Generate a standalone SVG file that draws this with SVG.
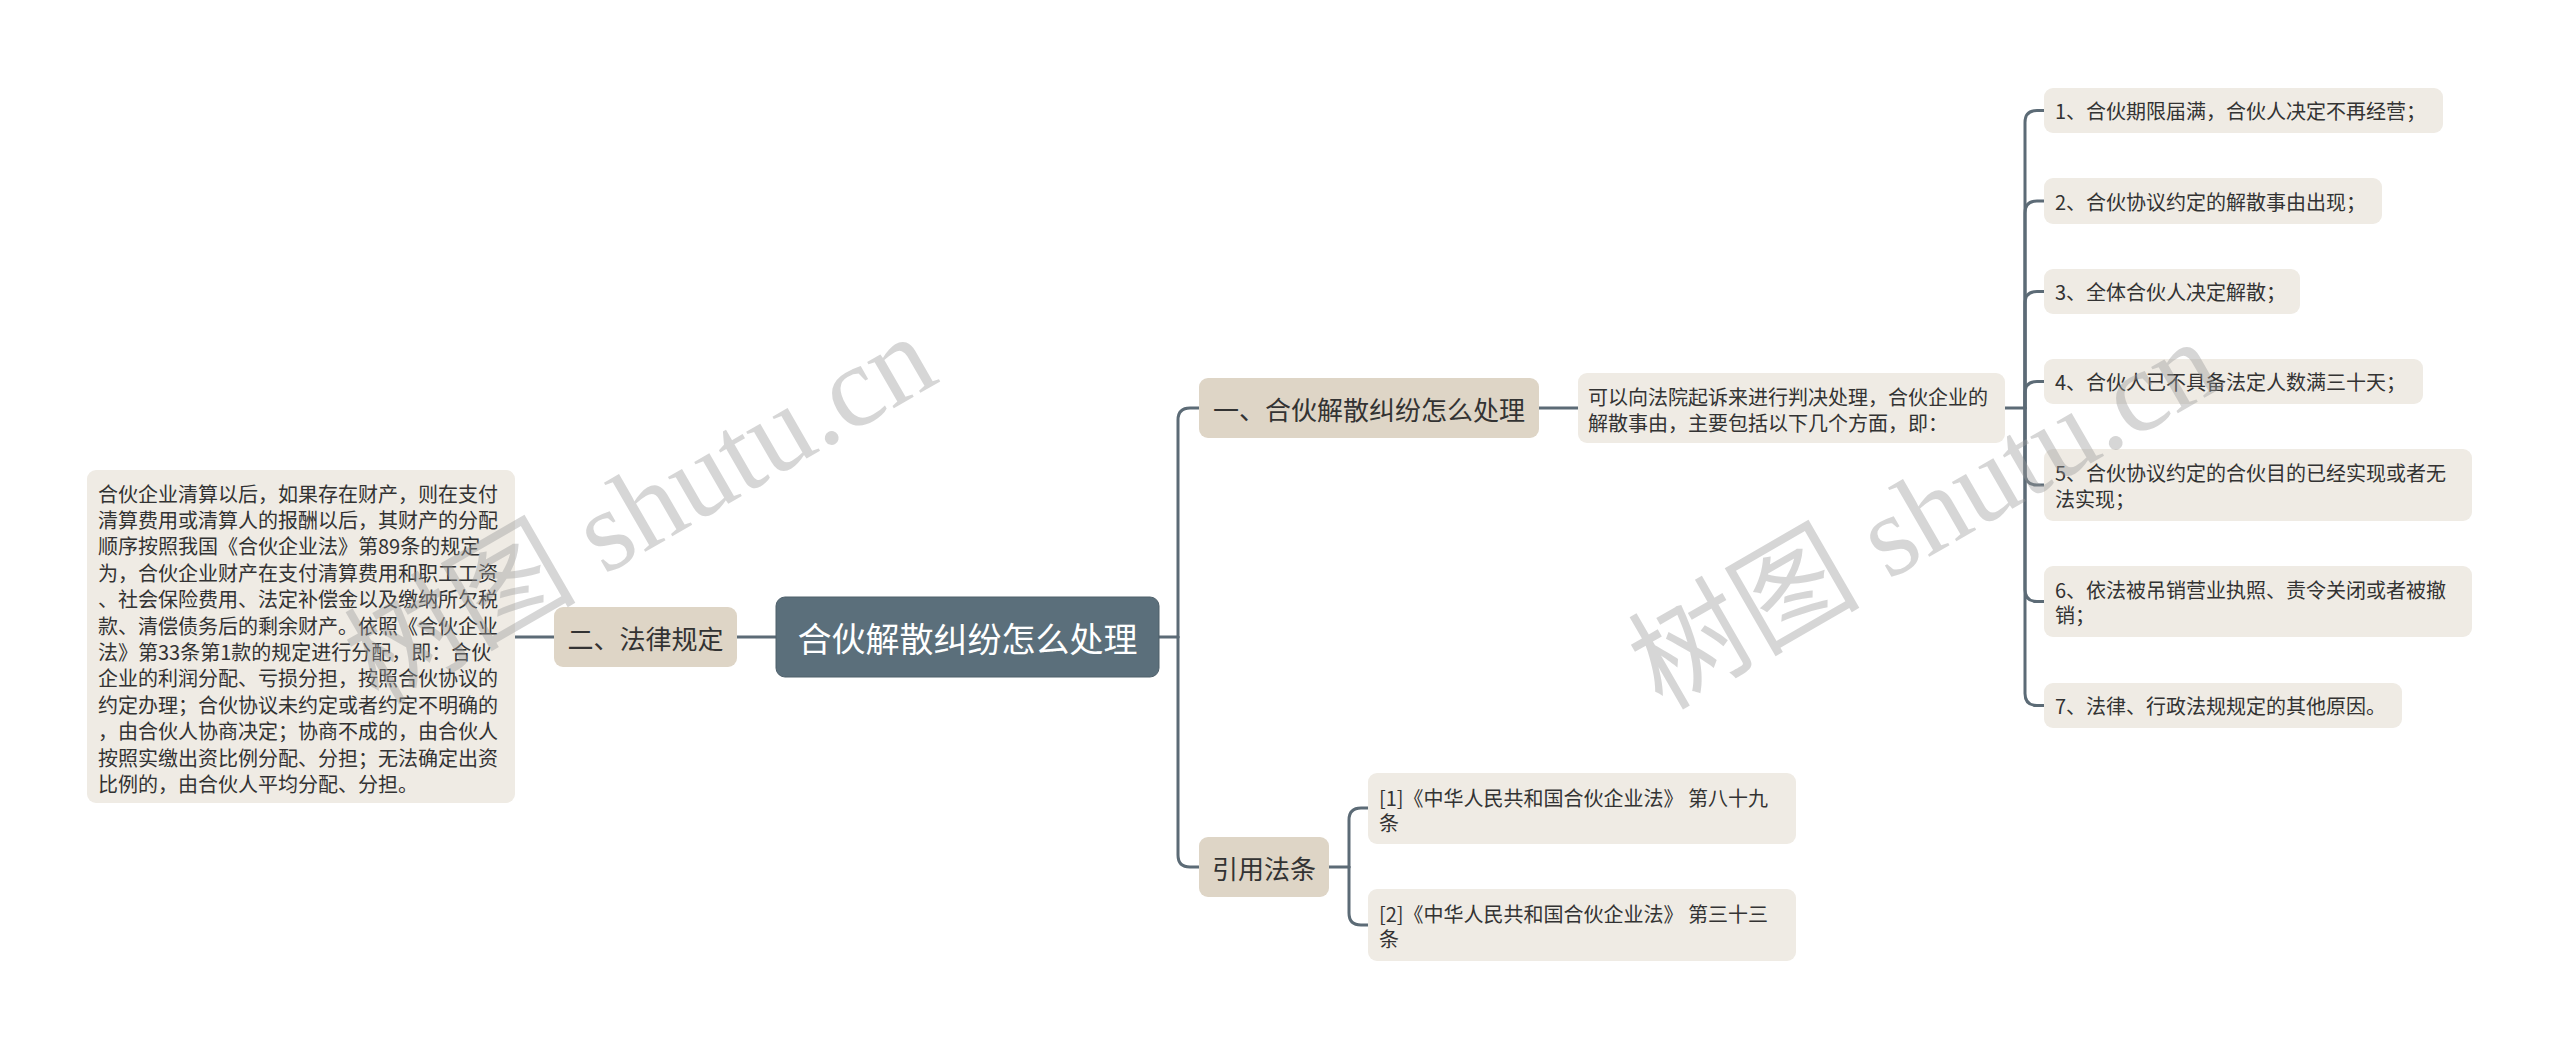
<svg xmlns="http://www.w3.org/2000/svg" width="2560" height="1049" viewBox="0 0 2560 1049">
<style>
text{font-family:"Noto Sans CJK SC","Noto Sans",sans-serif;fill:#333333;dominant-baseline:central}
.root{fill:#5b6f7b}
.l1{fill:#ded5c6}
.leaf{fill:#efebe4}
.t20{font-size:20px}
.t26{font-size:26px}
.rt{font-size:34px;fill:#ffffff}
.mid{text-anchor:middle}
.conn path{fill:none;stroke:#5c6b76;stroke-width:3;stroke-linecap:round}
.wm{font-family:"Liberation Serif","Noto Sans CJK SC",serif;font-size:116px;fill:#9a9a9a;opacity:0.4;dominant-baseline:auto}
</style>
<rect width="2560" height="1049" fill="#ffffff"/>
<g class="conn" id="connectors">
<path d="M1159 637 H1178"/>
<path d="M1178 637 V420 Q1178 408 1190 408 H1199"/>
<path d="M1178 637 V855 Q1178 867 1190 867 H1199"/>
<path d="M776 637 H737"/>
<path d="M554 637 H515"/>
<path d="M1539 408 H1578"/>
<path d="M2005 408 H2025"/>
<path d="M2025 408 V122.5 Q2025 110.5 2037 110.5 H2044"/>
<path d="M2025 408 V213 Q2025 201 2037 201 H2044"/>
<path d="M2025 408 V303.5 Q2025 291.5 2037 291.5 H2044"/>
<path d="M2025 408 V393.5 Q2025 381.5 2037 381.5 H2044"/>
<path d="M2025 408 V473 Q2025 485 2037 485 H2044"/>
<path d="M2025 408 V589.5 Q2025 601.5 2037 601.5 H2044"/>
<path d="M2025 408 V693.5 Q2025 705.5 2037 705.5 H2044"/>
<path d="M1329 867 H1349"/>
<path d="M1349 867 V820 Q1349 808 1361 808 H1368"/>
<path d="M1349 867 V913 Q1349 925 1361 925 H1368"/>
</g>
<g id="root">
<rect class="root" x="776" y="597" width="383" height="80" rx="9" stroke="#4f606b" stroke-width="1"/>
<text class="rt mid" x="967.5" y="637">合伙解散纠纷怎么处理</text>
</g>
<g id="n-law">
<rect class="l1" x="554" y="607" width="183" height="60" rx="9"/>
<text class="t26 mid" x="645.5" y="637">二、法律规定</text>
</g>
<g id="n-law-text">
<rect class="leaf" x="87" y="470" width="428" height="333" rx="9"/>
<text class="t20" x="98" y="493">合伙企业清算以后，如果存在财产，则在支付</text>
<text class="t20" x="98" y="519.4">清算费用或清算人的报酬以后，其财产的分配</text>
<text class="t20" x="98" y="545.8">顺序按照我国《合伙企业法》第89条的规定</text>
<text class="t20" x="98" y="572.2">为，合伙企业财产在支付清算费用和职工工资</text>
<text class="t20" x="98" y="598.6">、社会保险费用、法定补偿金以及缴纳所欠税</text>
<text class="t20" x="98" y="625">款、清偿债务后的剩余财产。依照《合伙企业</text>
<text class="t20" x="98" y="651.4">法》第33条第1款的规定进行分配，即：合伙</text>
<text class="t20" x="98" y="677.8">企业的利润分配、亏损分担，按照合伙协议的</text>
<text class="t20" x="98" y="704.2">约定办理；合伙协议未约定或者约定不明确的</text>
<text class="t20" x="98" y="730.6">，由合伙人协商决定；协商不成的，由合伙人</text>
<text class="t20" x="98" y="757">按照实缴出资比例分配、分担；无法确定出资</text>
<text class="t20" x="98" y="783.4">比例的，由合伙人平均分配、分担。</text>
</g>
<g id="n-how">
<rect class="l1" x="1199" y="378" width="340" height="60" rx="9"/>
<text class="t26 mid" x="1369" y="408">一、合伙解散纠纷怎么处理</text>
</g>
<g id="n-desc">
<rect class="leaf" x="1578" y="373" width="427" height="70" rx="9"/>
<text class="t20" x="1588" y="396">可以向法院起诉来进行判决处理，合伙企业的</text>
<text class="t20" x="1588" y="422">解散事由，主要包括以下几个方面，即：</text>
</g>
<g id="n-i1">
<rect class="leaf" x="2044" y="88" width="399" height="45" rx="9"/>
<text class="t20" x="2055" y="110.5">1、合伙期限届满，合伙人决定不再经营；</text>
</g>
<g id="n-i2">
<rect class="leaf" x="2044" y="178" width="338" height="46" rx="9"/>
<text class="t20" x="2055" y="201">2、合伙协议约定的解散事由出现；</text>
</g>
<g id="n-i3">
<rect class="leaf" x="2044" y="269" width="256" height="45" rx="9"/>
<text class="t20" x="2055" y="291.5">3、全体合伙人决定解散；</text>
</g>
<g id="n-i4">
<rect class="leaf" x="2044" y="359" width="379" height="45" rx="9"/>
<text class="t20" x="2055" y="381.5">4、合伙人已不具备法定人数满三十天；</text>
</g>
<g id="n-i5">
<rect class="leaf" x="2044" y="449" width="428" height="72" rx="9"/>
<text class="t20" x="2055" y="472.5">5、合伙协议约定的合伙目的已经实现或者无</text>
<text class="t20" x="2055" y="498">法实现；</text>
</g>
<g id="n-i6">
<rect class="leaf" x="2044" y="566" width="428" height="71" rx="9"/>
<text class="t20" x="2055" y="589">6、依法被吊销营业执照、责令关闭或者被撤</text>
<text class="t20" x="2055" y="614.5">销；</text>
</g>
<g id="n-i7">
<rect class="leaf" x="2044" y="683" width="358" height="45" rx="9"/>
<text class="t20" x="2055" y="705.5">7、法律、行政法规规定的其他原因。</text>
</g>
<g id="n-ref">
<rect class="l1" x="1199" y="837" width="130" height="60" rx="9"/>
<text class="t26 mid" x="1264" y="867">引用法条</text>
</g>
<g id="n-ref1">
<rect class="leaf" x="1368" y="773" width="428" height="71" rx="9"/>
<text class="t20" x="1379" y="797">[1]《中华人民共和国合伙企业法》 第八十九</text>
<text class="t20" x="1379" y="822.5">条</text>
</g>
<g id="n-ref2">
<rect class="leaf" x="1368" y="889" width="428" height="72" rx="9"/>
<text class="t20" x="1379" y="913">[2]《中华人民共和国合伙企业法》 第三十三</text>
<text class="t20" x="1379" y="938.5">条</text>
</g>
<g id="watermarks">
<text class="wm" transform="translate(378 706) rotate(-30)">树图 shutu.cn</text>
<text class="wm" transform="translate(1662 711) rotate(-30)">树图 shutu.cn</text>
</g>
</svg>
